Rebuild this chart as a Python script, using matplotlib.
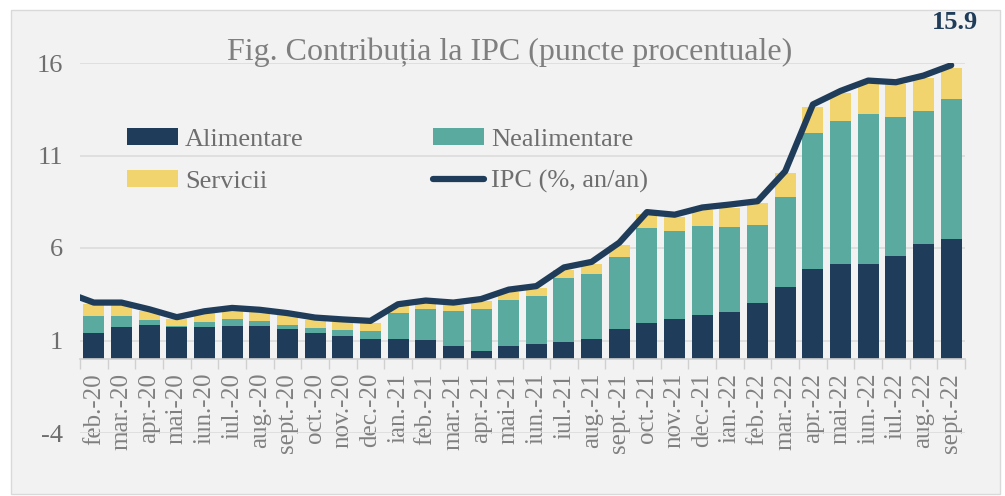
import numpy as np
import matplotlib
matplotlib.use("Agg")
import matplotlib.pyplot as plt
from matplotlib.patches import Rectangle

plt.rcParams['font.family'] = ['Liberation Serif', 'DejaVu Serif']
plt.rcParams['axes.unicode_minus'] = False

luni = ["feb.-20", "mar.-20", "apr.-20", "mai-20", "iun.-20", "iul.-20", "aug.-20",
        "sept.-20", "oct.-20", "nov.-20", "dec.-20", "ian.-21", "feb.-21", "mar.-21",
        "apr.-21", "mai-21", "iun.-21", "iul.-21", "aug.-21", "sept.-21", "oct.-21",
        "nov.-21", "dec.-21", "ian.-22", "feb.-22", "mar.-22", "apr.-22", "mai-22",
        "iun.-22", "iul.-22", "aug.-22", "sept.-22"]

alimentare = [1.43, 1.72, 1.86, 1.72, 1.72, 1.81, 1.76, 1.60, 1.40, 1.24, 1.08,
              1.06, 1.01, 0.69, 0.42, 0.69, 0.81, 0.94, 1.06, 1.60, 1.97,
              2.18, 2.40, 2.56, 3.04, 3.88, 4.86, 5.13, 5.12, 5.55, 6.19, 6.50]
nealimentare = [0.88, 0.62, 0.24, 0.06, 0.28, 0.37, 0.30, 0.26, 0.25, 0.34, 0.43,
                1.41, 1.67, 1.92, 2.30, 2.49, 2.57, 3.43, 3.55, 3.90, 5.12,
                4.73, 4.81, 4.60, 4.21, 4.88, 7.34, 7.71, 8.13, 7.52, 7.24, 7.55]
servicii = [0.69, 0.59, 0.47, 0.36, 0.46, 0.46, 0.48, 0.50, 0.47, 0.44, 0.43,
            0.37, 0.36, 0.32, 0.40, 0.45, 0.44, 0.46, 0.52, 0.67, 0.73,
            0.77, 0.86, 0.98, 1.17, 1.27, 1.41, 1.53, 1.68, 1.77, 1.77, 1.66]
# first value is ian.-20, only its segment towards feb.-20 shows (clipped)
ipc = [3.60, 3.05, 3.05, 2.69, 2.26, 2.58, 2.76, 2.66, 2.48, 2.24, 2.14, 2.06,
       2.96, 3.16, 3.05, 3.24, 3.75, 3.94, 4.95, 5.25, 6.29, 7.94,
       7.80, 8.19, 8.35, 8.53, 10.15, 13.76, 14.49, 15.05, 14.96, 15.32, 15.88]

c_alim = "#1F3D5A"
c_nealim = "#5BAAA0"
c_serv = "#F2D46F"
c_text = "#6E6E6E"

fig = plt.figure(figsize=(10.05, 4.96), dpi=100, facecolor="white")
fig.patches.append(Rectangle((11 / 1005, 2 / 496), 989 / 1005, 484 / 496,
                             transform=fig.transFigure, facecolor="#F2F2F2",
                             edgecolor="#D9D9D9", linewidth=1, zorder=-10))
ax = fig.add_axes([80 / 1005, 63 / 496, 885 / 1005, 370 / 496])
ax.set_facecolor("none")

x = np.arange(len(luni))
a = np.array(alimentare)
n = np.array(nealimentare)
s = np.array(servicii)
w = 0.76
b1 = ax.bar(x, a, w, color=c_alim, zorder=2)
b2 = ax.bar(x, n, w, bottom=a, color=c_nealim, zorder=2)
b3 = ax.bar(x, s, w, bottom=a + n, color=c_serv, zorder=2)
ln, = ax.plot(np.arange(-1, len(luni)), ipc, color=c_alim, linewidth=4.5,
              solid_capstyle="round", solid_joinstyle="round", zorder=3)

ax.annotate(f"{ipc[-1]:.1f}", (x[-1], ipc[-1]), xytext=(3, 31), textcoords="offset points",
            ha="center", va="center", fontsize=19, fontweight="bold", color=c_alim,
            annotation_clip=False)

ax.set_xlim(-0.5, len(luni) - 0.5)
ax.set_ylim(-4, 16)
ax.set_yticks([-4, 1, 6, 11, 16])
ax.yaxis.grid(True, color="#DCDCDC", linewidth=1.2, zorder=0)
ax.set_axisbelow(True)
ax.tick_params(axis="y", length=0, labelsize=19, labelcolor=c_text, pad=12)

ax.set_xticks(x)
ax.set_xticklabels(luni)
ax.set_xticks(np.arange(-0.5, len(luni)), minor=True)
ax.tick_params(axis="x", which="major", length=0, pad=10, labelrotation=90,
               labelsize=18, labelcolor="#808080")
ax.tick_params(axis="x", which="minor", length=7, color="#D0D0D0", width=1)

for sp in ["top", "right", "left"]:
    ax.spines[sp].set_visible(False)
ax.spines["bottom"].set_position(("data", 0))
ax.spines["bottom"].set_color("#D0D0D0")
ax.spines["bottom"].set_linewidth(1.2)

fig.text(510 / 1005, 444 / 496, "Fig. Contribuția la IPC (puncte procentuale)",
         fontsize=23, color="#7F7F7F", ha="center", va="center")

ax.legend([b1, b3, b2, ln], ["Alimentare", "Servicii", "Nealimentare", "IPC (%, an/an)"],
          loc="upper left", bbox_to_anchor=(0.041, 0.853), ncol=2, frameon=False,
          fontsize=19, labelcolor=c_text, columnspacing=4.9, handlelength=1.93,
          handleheight=0.6, labelspacing=0.74, handletextpad=0.27, borderaxespad=0)

fig.savefig("out.png", dpi=100, facecolor="white")
